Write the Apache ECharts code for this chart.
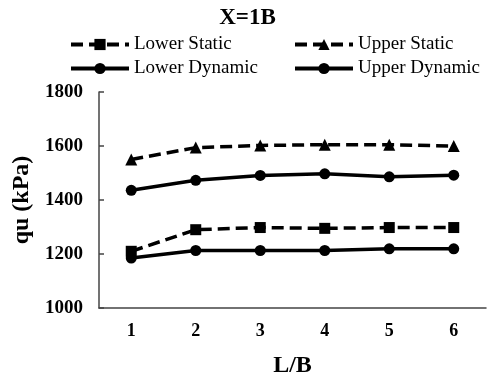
<!DOCTYPE html>
<html><head><meta charset="utf-8">
<script src="https://cdn.jsdelivr.net/npm/echarts@6/dist/echarts.min.js"></script>
<style>html,body{margin:0;padding:0;background:#fff}#c{width:495px;height:388px}</style>
</head><body><div id="c"></div>
<script>
const categories = ['1', '2', '3', '4', '5', '6'];
const lowerStatic = [1210, 1290, 1298, 1295, 1298, 1298];
const upperStatic = [1550, 1594, 1602, 1605, 1605, 1600];
const lowerDynamic = [1185, 1213, 1213, 1213, 1219, 1219];
const upperDynamic = [1436, 1473, 1491, 1497, 1486, 1492];
const yTicks = { min: 1000, max: 1800, interval: 200 };

const FONT = '"Liberation Serif", "Times New Roman", serif';
const chart = echarts.init(document.getElementById('c'), null, { renderer: 'canvas' });
const dashed = [12, 6];
function mk(name, data, symbol, size, dash) {
  return {
    name, type: 'line', data, symbol, symbolSize: size,
    itemStyle: { color: '#000' },
    lineStyle: { color: '#000', width: 3.5, type: dash ? dashed : 'solid' },
    emphasis: { disabled: true }, animation: false
  };
}
const legendBase = {
  orient: 'vertical', itemWidth: 58, itemHeight: 14, itemGap: 5,
  lineStyle: { width: 4 },
  textStyle: { fontFamily: FONT, fontSize: 19, color: '#000' }
};
chart.setOption({
  animation: false,
  title: { text: 'X=1B', left: 'center', top: 2,
    textStyle: { fontFamily: FONT, fontSize: 23, fontWeight: 'bold', color: '#000' } },
  legend: [
    Object.assign({ left: 64, top: 30, data: ['Lower Static', 'Lower Dynamic'] }, legendBase),
    Object.assign({ left: 288, top: 30, data: ['Upper Static', 'Upper Dynamic'] }, legendBase)
  ],
  grid: { left: 99, right: 9, top: 92, bottom: 80 },
  xAxis: {
    type: 'category', data: categories, boundaryGap: true,
    name: 'L/B', nameLocation: 'middle', nameGap: 46,
    nameTextStyle: { fontFamily: FONT, fontSize: 24, fontWeight: 'bold', color: '#000' },
    axisLine: { lineStyle: { color: '#444', width: 1.5 } },
    axisTick: { inside: true, alignWithLabel: true, length: 5, lineStyle: { color: '#444', width: 1.5 } },
    axisLabel: { fontFamily: FONT, fontSize: 18, fontWeight: 'bold', color: '#000', margin: 14 },
    splitLine: { show: false }
  },
  yAxis: {
    type: 'value', min: yTicks.min, max: yTicks.max, interval: yTicks.interval,
    name: 'qu (kPa)', nameLocation: 'middle', nameGap: 56,
    nameTextStyle: { fontFamily: FONT, fontSize: 24, fontWeight: 'bold', color: '#000' },
    axisLine: { show: true, lineStyle: { color: '#444', width: 1.5 } },
    axisTick: { show: true, inside: true, length: 5, lineStyle: { color: '#444', width: 1.5 } },
    axisLabel: { fontFamily: FONT, fontSize: 19, fontWeight: 'bold', color: '#000', margin: 16,
      formatter: v => String(v) },
    splitLine: { show: false }
  },
  series: [
    mk('Lower Static', lowerStatic, 'rect', 11, true),
    mk('Upper Static', upperStatic, 'triangle', 12, true),
    mk('Lower Dynamic', lowerDynamic, 'circle', 11, false),
    mk('Upper Dynamic', upperDynamic, 'circle', 11, false)
  ]
});
</script></body></html>
